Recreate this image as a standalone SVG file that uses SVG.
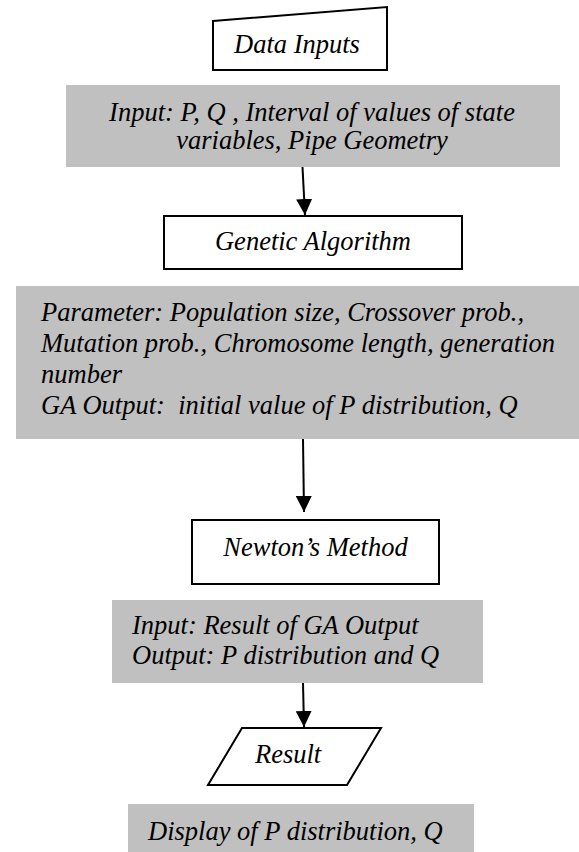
<svg xmlns="http://www.w3.org/2000/svg" width="579" height="852" viewBox="0 0 579 852">
<style>
text{font-family:"Liberation Serif","Times New Roman",serif;font-style:italic;font-size:26.5px;fill:#000}
.box{fill:#fff;stroke:#000;stroke-width:2}
.note{fill:#c0c0c0;stroke:none}
.conn{stroke:#000;stroke-width:2;fill:none;marker-end:url(#ah)}
</style>
<defs>
<marker id="ah" viewBox="0 0 16 16" refX="16" refY="8" markerWidth="16" markerHeight="16" markerUnits="userSpaceOnUse" orient="auto">
<path d="M0,0 L16,8 L0,16 z" fill="#000"/>
</marker>
</defs>
<rect width="579" height="852" fill="#fff"/>
<g id="data-inputs">
<polygon class="box" points="213,21 387,7 387,70 213,70"/>
<text x="297" y="53" text-anchor="middle">Data Inputs</text>
</g>
<g id="input-note">
<rect class="note" x="66" y="85" width="494" height="82"/>
<text x="312" y="121" text-anchor="middle">Input: P, Q , Interval of values of state</text>
<text x="312" y="149" text-anchor="middle">variables, Pipe Geometry</text>
</g>
<g id="genetic-algorithm">
<rect class="box" x="164" y="216" width="298" height="53"/>
<text x="313" y="250" text-anchor="middle">Genetic Algorithm</text>
</g>
<g id="ga-note">
<rect class="note" x="16" y="286" width="563" height="153"/>
<text x="41" y="321">Parameter: Population size, Crossover prob.,</text>
<text x="41" y="352">Mutation prob., Chromosome length, generation</text>
<text x="41" y="383">number</text>
<text x="41" y="414" xml:space="preserve">GA Output:  initial value of P distribution, Q</text>
</g>
<g id="newtons-method">
<rect class="box" x="192" y="520" width="247" height="64"/>
<text x="315.5" y="556" text-anchor="middle">Newton’s Method</text>
</g>
<g id="newton-note">
<rect class="note" x="112" y="600" width="371" height="83"/>
<text x="132" y="634">Input: Result of GA Output</text>
<text x="132" y="664">Output: P distribution and Q</text>
</g>
<g id="result">
<polygon class="box" points="242,728 381,728 347,785 208,785"/>
<text x="255" y="763">Result</text>
</g>
<g id="display-note">
<rect class="note" x="128" y="804" width="346" height="48"/>
<text x="148" y="840">Display of P distribution, Q</text>
</g>
<g id="connectors">
<line class="conn" x1="302.5" y1="167" x2="305" y2="215"/>
<line class="conn" x1="303" y1="439" x2="304" y2="512"/>
<line class="conn" x1="303" y1="683" x2="304" y2="727"/>
</g>
</svg>
